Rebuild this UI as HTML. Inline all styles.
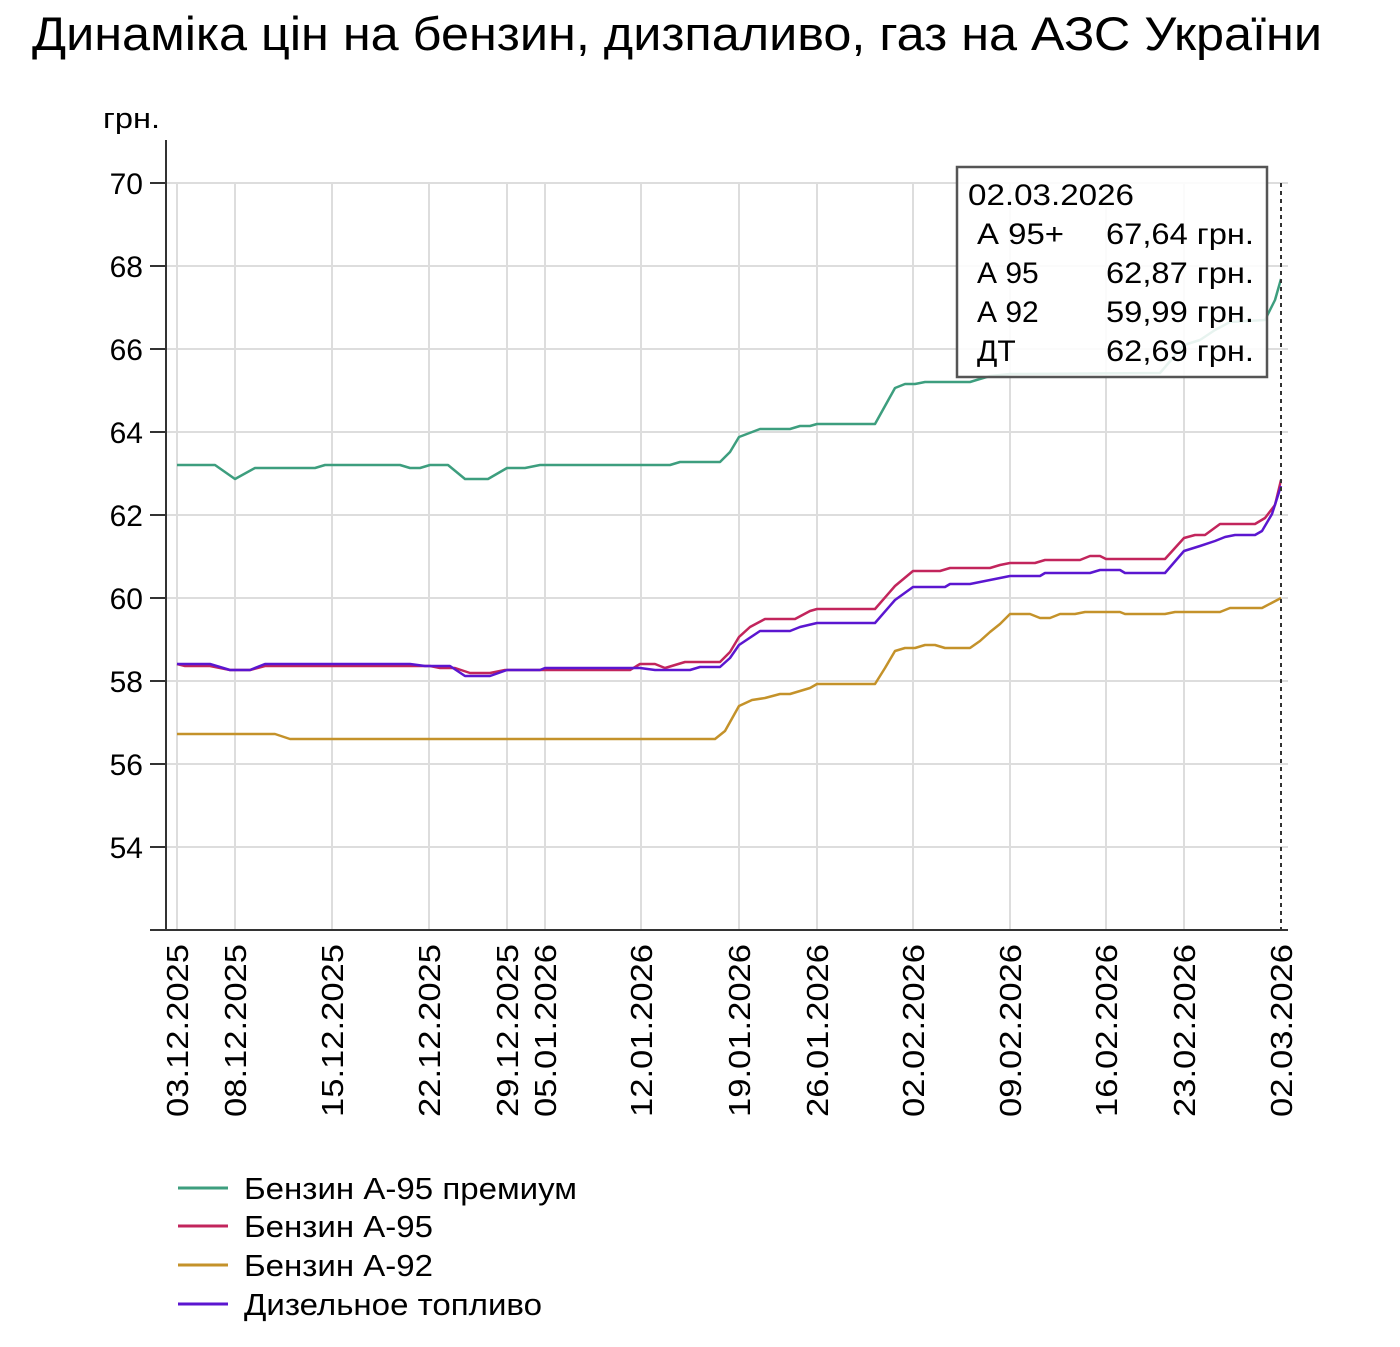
<!DOCTYPE html>
<html><head><meta charset="utf-8"><style>
body{margin:0;background:#fff;}
svg text{font-family:"Liberation Sans",sans-serif;fill:#000;}
</style></head><body>
<svg width="1400" height="1342" xmlns="http://www.w3.org/2000/svg">
<text x="32" y="50" font-size="47" textLength="1290" lengthAdjust="spacingAndGlyphs">Динаміка цін на бензин, дизпаливо, газ на АЗС України</text>
<text x="103" y="128" font-size="29" textLength="57" lengthAdjust="spacingAndGlyphs">грн.</text>
<g stroke="#ddd" stroke-width="2">
<line x1="166" x2="1288" y1="183" y2="183"/><line x1="166" x2="1288" y1="266" y2="266"/>
<line x1="166" x2="1288" y1="349" y2="349"/><line x1="166" x2="1288" y1="432" y2="432"/>
<line x1="166" x2="1288" y1="515" y2="515"/><line x1="166" x2="1288" y1="598" y2="598"/>
<line x1="166" x2="1288" y1="681" y2="681"/><line x1="166" x2="1288" y1="764" y2="764"/>
<line x1="166" x2="1288" y1="847" y2="847"/>
<line x1="177" x2="177" y1="183" y2="930"/><line x1="235" x2="235" y1="183" y2="930"/>
<line x1="332" x2="332" y1="183" y2="930"/><line x1="429" x2="429" y1="183" y2="930"/>
<line x1="507" x2="507" y1="183" y2="930"/><line x1="545" x2="545" y1="183" y2="930"/>
<line x1="641" x2="641" y1="183" y2="930"/><line x1="739" x2="739" y1="183" y2="930"/>
<line x1="817" x2="817" y1="183" y2="930"/><line x1="913" x2="913" y1="183" y2="930"/>
<line x1="1010" x2="1010" y1="183" y2="930"/><line x1="1106" x2="1106" y1="183" y2="930"/>
<line x1="1184" x2="1184" y1="183" y2="930"/>
</g>
<g stroke="#333" stroke-width="2">
<line x1="166" x2="166" y1="140" y2="930"/>
<line x1="150" x2="1288" y1="930" y2="930"/>
<line x1="150" x2="166" y1="183" y2="183"/><line x1="150" x2="166" y1="266" y2="266"/>
<line x1="150" x2="166" y1="349" y2="349"/><line x1="150" x2="166" y1="432" y2="432"/>
<line x1="150" x2="166" y1="515" y2="515"/><line x1="150" x2="166" y1="598" y2="598"/>
<line x1="150" x2="166" y1="681" y2="681"/><line x1="150" x2="166" y1="764" y2="764"/>
<line x1="150" x2="166" y1="847" y2="847"/>
</g>
<g font-size="30" text-anchor="end">
<text x="143" y="194">70</text><text x="143" y="277">68</text><text x="143" y="360">66</text>
<text x="143" y="443">64</text><text x="143" y="526">62</text><text x="143" y="609">60</text>
<text x="143" y="692">58</text><text x="143" y="775">56</text><text x="143" y="858">54</text>
</g>
<g font-size="31" text-anchor="end">
<text transform="translate(188,944) rotate(-90)" textLength="173" lengthAdjust="spacingAndGlyphs">03.12.2025</text>
<text transform="translate(246,944) rotate(-90)" textLength="173" lengthAdjust="spacingAndGlyphs">08.12.2025</text>
<text transform="translate(343,944) rotate(-90)" textLength="173" lengthAdjust="spacingAndGlyphs">15.12.2025</text>
<text transform="translate(440,944) rotate(-90)" textLength="173" lengthAdjust="spacingAndGlyphs">22.12.2025</text>
<text transform="translate(518,944) rotate(-90)" textLength="173" lengthAdjust="spacingAndGlyphs">29.12.2025</text>
<text transform="translate(556,944) rotate(-90)" textLength="173" lengthAdjust="spacingAndGlyphs">05.01.2026</text>
<text transform="translate(652,944) rotate(-90)" textLength="173" lengthAdjust="spacingAndGlyphs">12.01.2026</text>
<text transform="translate(750,944) rotate(-90)" textLength="173" lengthAdjust="spacingAndGlyphs">19.01.2026</text>
<text transform="translate(828,944) rotate(-90)" textLength="173" lengthAdjust="spacingAndGlyphs">26.01.2026</text>
<text transform="translate(924,944) rotate(-90)" textLength="173" lengthAdjust="spacingAndGlyphs">02.02.2026</text>
<text transform="translate(1021,944) rotate(-90)" textLength="173" lengthAdjust="spacingAndGlyphs">09.02.2026</text>
<text transform="translate(1117,944) rotate(-90)" textLength="173" lengthAdjust="spacingAndGlyphs">16.02.2026</text>
<text transform="translate(1195,944) rotate(-90)" textLength="173" lengthAdjust="spacingAndGlyphs">23.02.2026</text>
<text transform="translate(1292,944) rotate(-90)" textLength="173" lengthAdjust="spacingAndGlyphs">02.03.2026</text>
</g>
<g fill="none" stroke-width="2.5" stroke-linejoin="round">
<polyline stroke="#3d9e7e" points="177,465 215,465 235,479 255,468 315,468 325,465 400,465 410,468 420,468 430,465 448,465 465,479 488,479 507,468 525,468 540,465 670,465 680,462 720,462 730,452 739,437 760,429 790,429 800,426 810,426 817,424 875,424 895,388 905,384 915,384 925,382 970,382 990,376 1010,374 1160,373 1184,345 1200,340 1215,330 1230,322 1265,320 1275,300 1281,279"/>
<polyline stroke="#c2255c" points="177,664 185,666 210,666 230,670 250,670 265,666 430,666 440,668 455,668 470,673 490,673 505,670 630,670 640,664 655,664 665,668 685,662 720,662 730,652 739,637 750,627 765,619 795,619 810,611 817,609 875,609 895,586 913,571 940,571 950,568 990,568 1000,565 1010,563 1035,563 1045,560 1080,560 1090,556 1100,556 1106,559 1165,559 1184,538 1195,535 1205,535 1220,524 1255,524 1265,518 1275,505 1281,480"/>
<polyline stroke="#c4922a" points="177,734 275,734 290,739 715,739 725,731 739,706 752,700 765,698 780,694 790,694 800,691 810,688 817,684 875,684 885,668 895,651 905,648 915,648 925,645 935,645 945,648 970,648 980,641 990,632 1000,624 1010,614 1030,614 1040,618 1050,618 1060,614 1075,614 1085,612 1120,612 1125,614 1165,614 1175,612 1220,612 1230,608 1262,608 1281,598"/>
<polyline stroke="#5b16d0" points="177,664 210,664 230,670 250,670 265,664 410,664 425,666 450,666 465,676 490,676 507,670 540,670 545,668 640,668 655,670 690,670 700,667 720,667 730,658 739,645 760,631 790,631 800,627 817,623 875,623 895,600 913,587 945,587 950,584 970,584 990,580 1010,576 1040,576 1045,573 1090,573 1100,570 1120,570 1125,573 1165,573 1184,551 1200,546 1215,541 1225,537 1235,535 1255,535 1262,531 1272,514 1281,486"/>
</g>
<line x1="1281" x2="1281" y1="183" y2="930" stroke="#333" stroke-width="2" stroke-dasharray="4,4"/>
<rect x="957" y="167" width="310" height="210" fill="#fff" fill-opacity="0.88" stroke="#555" stroke-width="2.5"/>
<g font-size="30">
<text x="968" y="205" textLength="166" lengthAdjust="spacingAndGlyphs">02.03.2026</text>
<text x="977" y="244" textLength="87" lengthAdjust="spacingAndGlyphs">А 95+</text><text x="1106" y="244" textLength="148" lengthAdjust="spacingAndGlyphs">67,64 грн.</text>
<text x="977" y="283">А 95</text><text x="1106" y="283" textLength="148" lengthAdjust="spacingAndGlyphs">62,87 грн.</text>
<text x="977" y="322">А 92</text><text x="1106" y="322" textLength="148" lengthAdjust="spacingAndGlyphs">59,99 грн.</text>
<text x="977" y="361">ДТ</text><text x="1106" y="361" textLength="148" lengthAdjust="spacingAndGlyphs">62,69 грн.</text>
</g>
<g stroke-width="3">
<line x1="178" x2="228" y1="1188" y2="1188" stroke="#3d9e7e"/>
<line x1="178" x2="228" y1="1226" y2="1226" stroke="#c2255c"/>
<line x1="178" x2="228" y1="1265" y2="1265" stroke="#c4922a"/>
<line x1="178" x2="228" y1="1304" y2="1304" stroke="#5b16d0"/>
</g>
<g font-size="31">
<text x="244" y="1199" textLength="333" lengthAdjust="spacingAndGlyphs">Бензин А-95 премиум</text>
<text x="244" y="1237" textLength="189" lengthAdjust="spacingAndGlyphs">Бензин А-95</text>
<text x="244" y="1276" textLength="189" lengthAdjust="spacingAndGlyphs">Бензин А-92</text>
<text x="244" y="1315" textLength="298" lengthAdjust="spacingAndGlyphs">Дизельное топливо</text>
</g>
</svg>
</body></html>
